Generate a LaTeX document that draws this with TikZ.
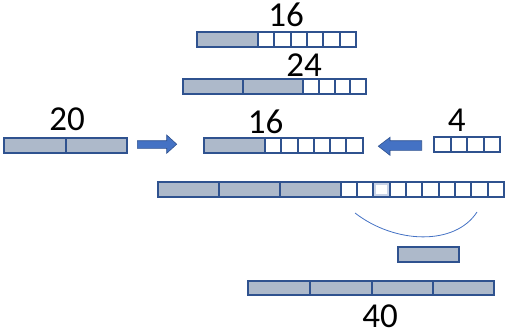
\documentclass[tikz,border=0pt]{standalone}
\usepackage{fontspec}
\setmainfont{Carlito}
\definecolor{bord}{HTML}{2F528F}
\definecolor{gfill}{HTML}{ADB9CA}
\definecolor{arrowfill}{HTML}{4472C4}
\definecolor{lightbord}{HTML}{C9D3E6}
\begin{document}
\begin{tikzpicture}[x=1pt,y=-1pt,
  gcell/.style={draw=bord, fill=gfill, line width=2pt},
  wcell/.style={draw=bord, fill=white, line width=2pt},
  num/.style={font=\fontsize{35}{40}\selectfont, anchor=base, inner sep=0pt},
  blockarrow/.style={fill=arrowfill, draw=bord, line width=0.6pt}]
\useasboundingbox (0,0) rectangle (510,329);
% row 1 (16)
\draw[gcell] (197,31.7) rectangle (258,46.7);
\foreach \k in {0,...,5} \draw[wcell] ({258+16.33*\k},31.7) rectangle ({258+16.33*(\k+1)},46.7);
\node[num] (l16a) at (286,26.7) {16};
% row 2 (24)
\draw[gcell] (182.7,79) rectangle (243,94);
\draw[gcell] (243,79) rectangle (303,94);
\foreach \k in {0,...,3} \draw[wcell] ({303+15.75*\k},79) rectangle ({303+15.75*(\k+1)},94);
\node[num] (l24) at (304,76) {24};
% row 3 left (20)
\draw[gcell] (4.3,137.7) rectangle (65.7,152.7);
\draw[gcell] (65.7,137.7) rectangle (126.7,152.7);
\node[num] (l20) at (67,130.7) {20};
% right arrow
\draw[blockarrow] (137.3,140.7) -- (166.7,140.7) -- (166.7,135) -- (176.7,144.2) -- (166.7,153.3) -- (166.7,148.3) -- (137.3,148.3) -- cycle;
% row 3 middle (16)
\draw[gcell] (204.3,137.7) rectangle (265,152.7);
\foreach \k in {0,...,5} \draw[wcell] ({265+16.28*\k},137.7) rectangle ({265+16.28*(\k+1)},152.7);
\node[num] (l16b) at (265.5,133.3) {16};
% left arrow
\draw[blockarrow] (421.7,140.7) -- (390,140.7) -- (390,137.3) -- (378.3,146.2) -- (390,155.3) -- (390,150.3) -- (421.7,150.3) -- cycle;
% row 3 right (4)
\foreach \k in {0,...,3} \draw[wcell] ({434.3+16.4*\k},136.7) rectangle ({434.3+16.4*(\k+1)},152.3);
\node[num] (l4) at (456.7,131.7) {4};
% row 4
\draw[gcell] (157.7,182.3) rectangle (219,196.7);
\draw[gcell] (219,182.3) rectangle (279.7,196.7);
\draw[gcell] (279.7,182.3) rectangle (340.7,196.7);
\foreach \k in {0,...,9} \draw[wcell] ({340.7+16.33*\k},182.3) rectangle ({340.7+16.33*(\k+1)},196.7);
\draw[draw=lightbord, fill=white, line width=1.5pt] ({340.7+16.33*2+1.5},183.8) rectangle ({340.7+16.33*3-1.5},195.2);
% arc
\draw[arrowfill, line width=0.8pt] (355,213) .. controls (395,244) and (455,246) .. (477,212);
% small box
\draw[gcell] (397.7,247.3) rectangle (459,262.3);
% bottom bar (40)
\draw[gcell] (248.3,280.7) rectangle (310,295);
\draw[gcell] (310,280.7) rectangle (371.7,295);
\draw[gcell] (371.7,280.7) rectangle (432.7,295);
\draw[gcell] (432.7,280.7) rectangle (494.3,295);
\node[num] (l40) at (380,327.6) {40};
\end{tikzpicture}
\end{document}
